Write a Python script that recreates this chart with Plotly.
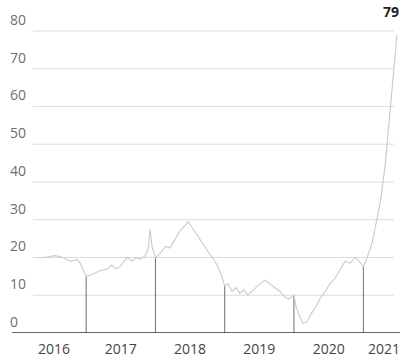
import plotly.graph_objects as go

dates = [
    "2016-04-21", "2016-05-28", "2016-07-20", "2016-09-01", "2016-10-08", "2016-11-14",
    "2016-11-30", "2016-12-21", "2017-01-01", "2017-02-02", "2017-03-14", "2017-04-25",
    "2017-05-16", "2017-06-07", "2017-06-28", "2017-07-19", "2017-08-09", "2017-08-31",
    "2017-09-21", "2017-10-12", "2017-11-08", "2017-11-23", "2017-12-04", "2017-12-14",
    "2017-12-25", "2018-01-01", "2018-01-26", "2018-02-22", "2018-03-18", "2018-04-14",
    "2018-05-10", "2018-06-06", "2018-06-22", "2018-07-12", "2018-08-08", "2018-09-04",
    "2018-10-01", "2018-10-27", "2018-11-22", "2018-12-13", "2019-01-01", "2019-01-19",
    "2019-02-09", "2019-03-01", "2019-03-22", "2019-04-12", "2019-05-03", "2019-05-24",
    "2019-06-14", "2019-07-05", "2019-08-01", "2019-08-28", "2019-09-23", "2019-10-19",
    "2019-11-15", "2019-12-06", "2020-01-01", "2020-01-12", "2020-02-03", "2020-02-18",
    "2020-03-10", "2020-03-31", "2020-04-26", "2020-05-17", "2020-06-13", "2020-07-09",
    "2020-08-05", "2020-09-01", "2020-09-27", "2020-10-23", "2020-11-19", "2020-12-10",
    "2021-01-01", "2021-01-21", "2021-02-17", "2021-03-13", "2021-04-04", "2021-04-25",
    "2021-05-10", "2021-05-26", "2021-06-11", "2021-06-27",
]
values = [
    20, 20, 20.5, 20, 19, 19.5,
    18.5, 16, 15, 15.5, 16.5, 17,
    18, 17, 17.5, 19, 20, 19,
    20, 19.5, 20.5, 22, 27.5, 23,
    21, 20, 21, 23, 22.5, 25,
    27, 28.5, 29.5, 28, 26, 24,
    22, 20, 18, 15.5, 12.5, 13,
    11, 12, 10.5, 11.5, 10, 11,
    12, 13, 14, 13, 12, 11,
    9.5, 9, 10, 7, 4, 2.5,
    3, 5, 7, 9, 11, 13,
    14.5, 17, 19, 18.5, 20, 19,
    17.5, 20, 24, 30, 36, 44,
    52, 62, 70, 79,
]
year_marks = ["2017-01-01", "2018-01-01", "2019-01-01", "2020-01-01", "2021-01-01"]
y_ticks = [0, 10, 20, 30, 40, 50, 60, 70, 80]
x_tickvals = ["2016-07-15", "2017-07-02", "2018-07-02", "2019-07-02", "2020-07-02", "2021-04-20"]
x_ticktext = ["2016", "2017", "2018", "2019", "2020", "2021"]
last_label = "79"

W, H = 402, 360
L, R, T, B = 12, 2, 20, 25
pw = W - L - R

fig = go.Figure()

# year marker drop lines
mx, my = [], []
for d in year_marks:
    v = values[dates.index(d)]
    mx += [d, d, None]
    my += [0, v, None]
fig.add_trace(go.Scatter(x=mx, y=my, mode="lines",
                         line=dict(color="#707070", width=1), hoverinfo="skip"))

fig.add_trace(go.Scatter(x=dates, y=values, mode="lines",
                         line=dict(color="#cacaca", width=1.1)))

shapes = []
x0 = (33 - L) / pw
x1 = (394 - L) / pw
for v in y_ticks[1:]:
    shapes.append(dict(type="line", xref="paper", yref="y", x0=x0, x1=x1, y0=v, y1=v,
                       line=dict(color="#dcdcdc", width=1), layer="below"))
shapes.append(dict(type="line", xref="paper", yref="y", x0=0, x1=1, y0=0, y1=0,
                   line=dict(color="#333333", width=1.5)))

annotations = []
for v in y_ticks:
    annotations.append(dict(xref="paper", yref="y", x=(8 - L) / pw, y=v, text=str(v),
                            showarrow=False, xanchor="left", yanchor="bottom", yshift=0,
                            font=dict(family="Open Sans", size=14, color="#6e6e6e")))
annotations.append(dict(x=dates[-1], y=values[-1], text="<b>" + last_label + "</b>",
                        showarrow=False, xanchor="right", yanchor="bottom", xshift=4, yshift=12,
                        font=dict(family="Open Sans", size=14, color="#222222")))

fig.update_layout(
    width=W, height=H,
    margin=dict(l=L, r=R, t=T, b=B),
    paper_bgcolor="white", plot_bgcolor="white",
    showlegend=False,
    shapes=shapes,
    annotations=annotations,
    xaxis=dict(type="date", range=["2015-12-07", "2021-07-13"], showgrid=False,
               zeroline=False, showline=False, ticks="", ticklabelstandoff=6,
               tickvals=x_tickvals, ticktext=x_ticktext,
               tickfont=dict(family="Open Sans", size=14, color="#444444")),
    yaxis=dict(range=[0, (H - B - T) / 3.8], showgrid=False, zeroline=False,
               showticklabels=False, showline=False),
)

fig.write_html("out.html")
